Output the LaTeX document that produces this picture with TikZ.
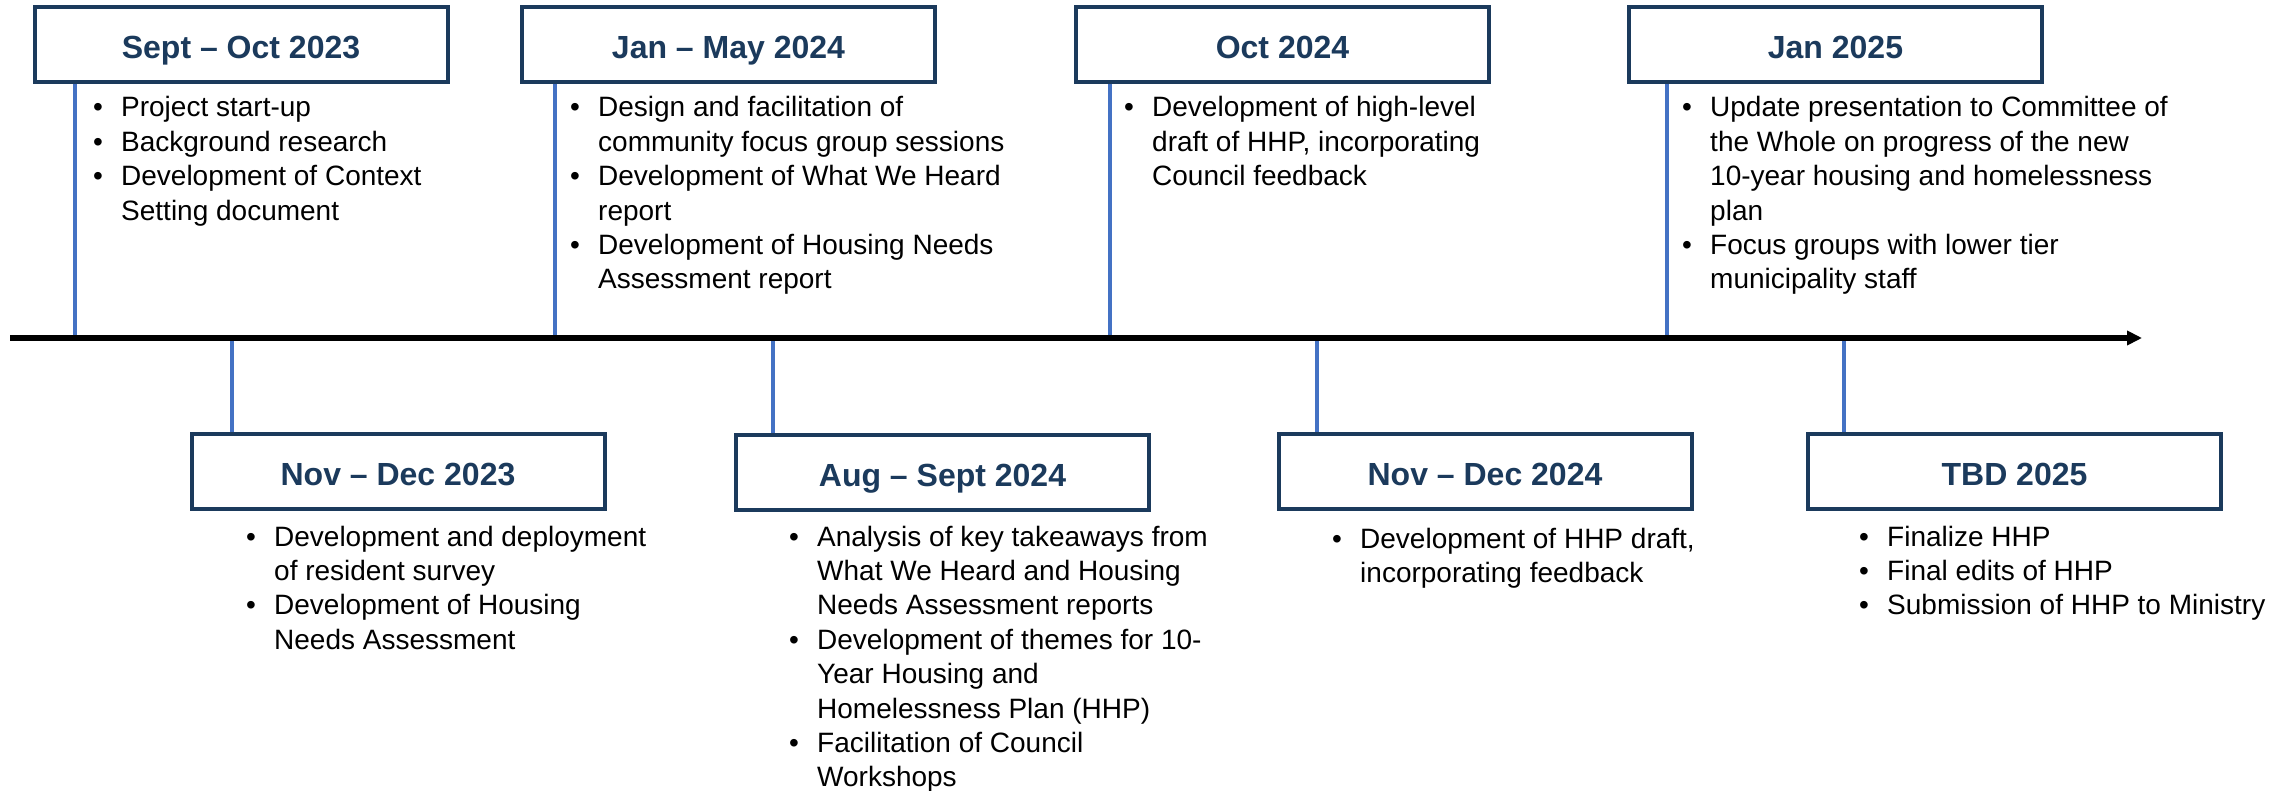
\documentclass[tikz,border=0pt]{standalone}
\usepackage{fontspec}
\setmainfont{Liberation Sans}
\usetikzlibrary{arrows.meta}
\definecolor{navy}{HTML}{1B3A5C}
\definecolor{stemblue}{HTML}{4472C4}
% bullet line and its hanging continuation
\newcommand{\bl}[1]{\makebox[28pt][l]{•}#1}
\newcommand{\cl}[1]{\hspace*{28pt}#1}

\begin{document}
\begin{tikzpicture}[x=1pt,y=-1pt,
  period/.style={draw=navy, line width=4pt, fill=white, minimum width=413pt,
    minimum height=75pt, inner sep=0pt, text=navy,
    font=\fontsize{32}{38}\selectfont\bfseries, text height=28pt, text depth=0pt},
  notes/.style={anchor=base west, inner sep=0pt, font=\fontsize{28}{34.4}\selectfont},
  stem/.style={draw=stemblue, line width=4pt},
  axis/.style={draw=black, line width=5.5pt, -{Triangle[length=15pt,width=14pt]}}]
\useasboundingbox (0,0) rectangle (2286,791);

% period boxes above the axis
\node[period] (b1) at (241,45)    {Sept – Oct 2023};
\node[period] (b2) at (728.5,45)  {Jan – May 2024};
\node[period] (b3) at (1282.5,45) {Oct 2024};
\node[period] (b4) at (1835.5,45) {Jan 2025};
% period boxes below the axis
\node[period] (b5) at (398,471)    {Nov – Dec 2023};
\node[period] (b6) at (942.5,472.5){Aug – Sept 2024};
\node[period] (b7) at (1485,471)   {Nov – Dec 2024};
\node[period] (b8) at (2014.5,471) {TBD 2025};

% activity lists
\node[notes] (n1) at (93,117) {\begin{tabular}[t]{@{}l@{}}
\bl{Project start-up}\\
\bl{Background research}\\
\bl{Development of Context}\\
\cl{Setting document}
\end{tabular}};
\node[notes] (n2) at (570,117) {\begin{tabular}[t]{@{}l@{}}
\bl{Design and facilitation of}\\
\cl{community focus group sessions}\\
\bl{Development of What We Heard}\\
\cl{report}\\
\bl{Development of Housing Needs}\\
\cl{Assessment report}
\end{tabular}};
\node[notes] (n3) at (1124,117) {\begin{tabular}[t]{@{}l@{}}
\bl{Development of high-level}\\
\cl{draft of HHP, incorporating}\\
\cl{Council feedback}
\end{tabular}};
\node[notes] (n4) at (1682,117) {\begin{tabular}[t]{@{}l@{}}
\bl{Update presentation to Committee of}\\
\cl{the Whole on progress of the new}\\
\cl{10-year housing and homelessness}\\
\cl{plan}\\
\bl{Focus groups with lower tier}\\
\cl{municipality staff}
\end{tabular}};
\node[notes] (n5) at (246,546) {\begin{tabular}[t]{@{}l@{}}
\bl{Development and deployment}\\
\cl{of resident survey}\\
\bl{Development of Housing}\\
\cl{Needs Assessment}
\end{tabular}};
\node[notes] (n6) at (789,546) {\begin{tabular}[t]{@{}l@{}}
\bl{Analysis of key takeaways from}\\
\cl{What We Heard and Housing}\\
\cl{Needs Assessment reports}\\
\bl{Development of themes for 10-}\\
\cl{Year Housing and}\\
\cl{Homelessness Plan (HHP)}\\
\bl{Facilitation of Council}\\
\cl{Workshops}
\end{tabular}};
\node[notes] (n7) at (1332,548) {\begin{tabular}[t]{@{}l@{}}
\bl{Development of HHP draft,}\\
\cl{incorporating feedback}
\end{tabular}};
\node[notes] (n8) at (1859,546) {\begin{tabular}[t]{@{}l@{}}
\bl{Finalize HHP}\\
\bl{Final edits of HHP}\\
\bl{Submission of HHP to Ministry}
\end{tabular}};

% points on the axis where the stems meet it
\coordinate (s1) at (75,338);
\coordinate (s2) at (555,338);
\coordinate (s3) at (1110,338);
\coordinate (s4) at (1667,338);
\coordinate (s5) at (232,338);
\coordinate (s6) at (773,338);
\coordinate (s7) at (1317,338);
\coordinate (s8) at (1844,338);

\draw[stem] (s1) -- (s1 |- b1.south);
\draw[stem] (s2) -- (s2 |- b2.south);
\draw[stem] (s3) -- (s3 |- b3.south);
\draw[stem] (s4) -- (s4 |- b4.south);
\draw[stem] (s5) -- (s5 |- b5.north);
\draw[stem] (s6) -- (s6 |- b6.north);
\draw[stem] (s7) -- (s7 |- b7.north);
\draw[stem] (s8) -- (s8 |- b8.north);

% the time axis
\coordinate (t0) at (10,338);
\coordinate (t1) at (2142,338);
\draw[axis] (t0) -- (t1);
\end{tikzpicture}
\end{document}
